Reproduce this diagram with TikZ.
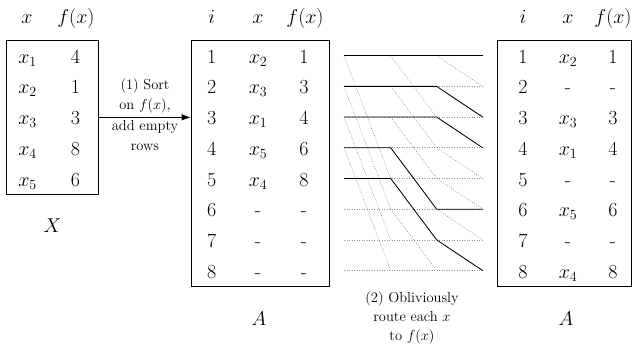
\RequirePackage{fix-cm}
\documentclass[tikz,border=0pt]{standalone}
\usetikzlibrary{arrows.meta}
\begin{document}
\begin{tikzpicture}[x=1pt,y=-1pt,font=\fontsize{20}{24}\selectfont,
  cell/.style={anchor=base,inner sep=0pt},
  tbox/.style={draw,line width=0.8pt,inner sep=0pt},
  lbl/.style={anchor=base,inner sep=0pt,font=\fontsize{14.5}{17}\selectfont},
  wire/.style={line width=0.8pt,line join=round},
  ghost/.style={gray!85,line width=0.7pt,dash pattern=on 0.8pt off 1.7pt}]
\useasboundingbox (0,0) rectangle (632,350);

% boxes
\node[tbox,minimum width=92.5pt,minimum height=153.3pt] (boxX) at (52.25,117.35) {};
\node[tbox,minimum width=138pt,minimum height=245.3pt] (boxA) at (260,163.35) {};
\node[tbox,minimum width=134pt,minimum height=245.3pt] (boxB) at (564,163.35) {};

% headers
\node[cell] (hXx) at (27,23.3) {$x$};
\node[cell] (hXf) at (76,23.3) {$f(x)$};
\node[cell] (hAi) at (211.7,23.3) {$i$};
\node[cell] (hAx) at (258,23.3) {$x$};
\node[cell] (hAf) at (305,23.3) {$f(x)$};
\node[cell] (hBi) at (523,23.3) {$i$};
\node[cell] (hBx) at (568,23.3) {$x$};
\node[cell] (hBf) at (613,23.3) {$f(x)$};

% table X
\foreach \v [count=\k] in {4,1,3,8,6} {
  \node[cell] (Xx\k) at (27.5,{63.3+30.7*(\k-1)}) {$x_{\k}$};
  \node[cell] (Xf\k) at (75.5,{63.3+30.7*(\k-1)}) {\v};
}
% table A (sorted)
\foreach \xt/\fv [count=\k] in {$x_2$/1,$x_3$/3,$x_1$/4,$x_5$/6,$x_4$/8,-/-,-/-,-/-} {
  \node[cell] (Ai\k) at (211.7,{63.3+30.7*(\k-1)}) {\k};
  \node[cell] (Ax\k) at (258,{63.3+30.7*(\k-1)}) {\xt};
  \node[cell] (Af\k) at (304,{63.3+30.7*(\k-1)}) {\fv};
}
% table A (routed)
\foreach \xt/\fv [count=\k] in {$x_2$/1,-/-,$x_3$/3,$x_1$/4,-/-,$x_5$/6,-/-,$x_4$/8} {
  \node[cell] (Bi\k) at (523,{63.3+30.7*(\k-1)}) {\k};
  \node[cell] (Bx\k) at (568,{63.3+30.7*(\k-1)}) {\xt};
  \node[cell] (Bf\k) at (613,{63.3+30.7*(\k-1)}) {\fv};
}

% bottom labels
\node[cell] (labX) at (52.5,232) {$X$};
\node[cell] (labA) at (259,325) {$A$};
\node[cell] (labB) at (566,325) {$A$};

% arrow
\draw[-{Latex[length=9pt,width=6.5pt]},line width=0.8pt] (boxX.east) -- (boxX.east -| boxA.west);
\node[lbl] (s1a) at (145,90) {(1) Sort};
\node[lbl] (s1b) at (145,110) {on $f(x)$,};
\node[lbl] (s1c) at (145,131) {add empty};
\node[lbl] (s1d) at (145,150) {rows};

% routing network
\foreach \s/\cx in {0/344,1/390.7,2/436.7,3/482.7}
  \foreach \k in {1,...,8}
    \coordinate (n\s-\k) at (\cx,{55.7+30.7*(\k-1)});

\foreach \k in {1,...,8} \draw[ghost] (n0-\k) -- (n3-\k);
\foreach \k in {1,...,4} {\pgfmathtruncatemacro\j{\k+4}\draw[ghost] (n0-\k) -- (n1-\j);}
\foreach \k in {1,...,6} {\pgfmathtruncatemacro\j{\k+2}\draw[ghost] (n1-\k) -- (n2-\j);}
\foreach \k in {1,...,7} {\pgfmathtruncatemacro\j{\k+1}\draw[ghost] (n2-\k) -- (n3-\j);}

\draw[wire] (n0-1) -- (n3-1);
\draw[wire] (n0-2) -- (n2-2) -- (n3-3);
\draw[wire] (n0-3) -- (n2-3) -- (n3-4);
\draw[wire] (n0-4) -- (n1-4) -- (n2-6) -- (n3-6);
\draw[wire] (n0-5) -- (n1-5) -- (n2-7) -- (n3-8);

\node[lbl] (s2a) at (412,302) {(2) Obliviously};
\node[lbl] (s2b) at (412,321) {route each $x$};
\node[lbl] (s2c) at (412,340) {to $f(x)$};
\end{tikzpicture}
\end{document}
